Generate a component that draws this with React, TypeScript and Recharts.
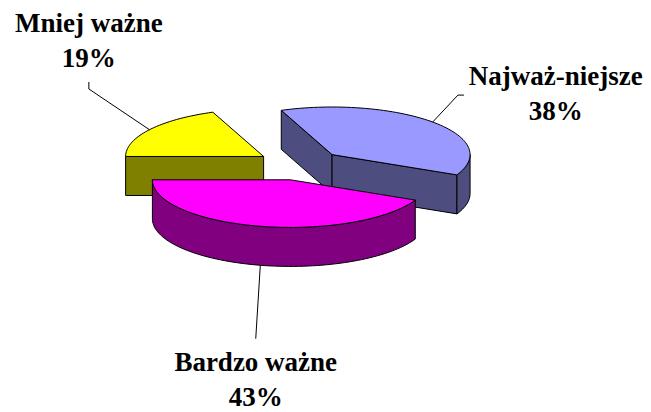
import React from 'react';
import { PieChart, Pie, Cell } from 'recharts';

const categories = ['Mniej ważne', 'Najważ-niejsze', 'Bardzo ważne'];
const shares = [19, 38, 43];
const topColors = ['#FFFF00', '#9999FF', '#FF00FF'];
const sideColors = ['#808000', '#4D4D80', '#800080'];

const data = categories.map((name, i) => ({ name, value: shares[i] }));

const TILT = 0.345; // ry / rx of the flattened disc
const DEPTH = 39;
const EXPLODE = 44;
const RAD = Math.PI / 180;
const FONT = 'Liberation Serif';

// elliptical point at a recharts angle (counter-clockwise from 3 o'clock)
const pt = (x: number, y: number, rx: number, ry: number, a: number, dy = 0) =>
  [x + rx * Math.cos(a * RAD), y - ry * Math.sin(a * RAD) + dy] as [number, number];

const arcPts = (x: number, y: number, rx: number, ry: number, a0: number, a1: number, dy = 0) => {
  const n = Math.max(2, Math.ceil(Math.abs(a1 - a0) / 2));
  const out: [number, number][] = [];
  for (let i = 0; i <= n; i++) out.push(pt(x, y, rx, ry, a0 + ((a1 - a0) * i) / n, dy));
  return out;
};

const toPath = (pts: [number, number][]) =>
  pts.map((p, i) => `${i ? 'L' : 'M'}${p[0].toFixed(2)},${p[1].toFixed(2)}`).join(' ') + ' Z';

const SliceLabel = ({ cx, cy, midAngle, outerRadius, name, pct }: any) => {
  const c = Math.cos(midAngle * RAD);
  const s = Math.sin(midAngle * RAD);
  const rx = outerRadius;
  const ry = rx * TILT;
  const drop = s < 0 ? DEPTH : 0;
  const ax = cx + (EXPLODE + rx) * c;
  const ay = cy - (EXPLODE * TILT + ry) * s + drop;

  let line: string;
  let tx: number;
  let y1: number;
  if (c > 0.6) {
    // label to the right of the elbow
    const ex = cx + rx * 1.57 * c;
    const ey = cy - rx * 0.74 * s;
    line = `M${ax},${ay} L${ex},${ey} L${ex + 6},${ey}`;
    tx = ex + 11 + name.length * 6.2;
    y1 = ey - 10;
  } else if (s > 0) {
    // label above
    const ex = cx + rx * 1.85 * c;
    const ey = cy - rx * 0.98 * s;
    line = `M${ax},${ay} L${ex},${ey} L${ex},${ey - 7}`;
    tx = ex;
    y1 = ey - 57;
  } else {
    // label below
    const ex = cx + rx * 1.47 * c;
    const ey = cy - rx * 1.0 * s + drop;
    line = `M${ax},${ay} L${ex},${ey}`;
    tx = ex;
    y1 = ey + 32;
  }

  return (
    <g>
      <path d={line} fill="none" stroke="#000" strokeWidth={1} />
      <text x={tx} y={y1} textAnchor="middle" fontFamily={FONT} fontSize={27} fontWeight={700} fill="#000" stroke="none">
        {name}
      </text>
      <text x={tx} y={y1 + 35} textAnchor="middle" fontFamily={FONT} fontSize={27} fontWeight={700} fill="#000" stroke="none">
        {pct}
      </text>
    </g>
  );
};

const Slice3D = (props: any) => {
  const { cx, cy, outerRadius, startAngle, endAngle, midAngle, payload, percent } = props;
  const name = payload?.name ?? props.name;
  const idx = categories.indexOf(name);
  const top = topColors[idx];
  const side = sideColors[idx];
  const rx = outerRadius;
  const ry = outerRadius * TILT;
  const x = cx + EXPLODE * Math.cos(midAngle * RAD);
  const y = cy - EXPLODE * TILT * Math.sin(midAngle * RAD);
  const lo = Math.min(startAngle, endAngle);
  const hi = Math.max(startAngle, endAngle);
  const faces: string[] = [];

  // radial walls
  if (Math.cos(startAngle * RAD) < 0) {
    const p = pt(x, y, rx, ry, startAngle);
    faces.push(toPath([[x, y], p, [p[0], p[1] + DEPTH], [x, y + DEPTH]]));
  }
  if (Math.cos(endAngle * RAD) > 0) {
    const p = pt(x, y, rx, ry, endAngle);
    faces.push(toPath([[x, y], p, [p[0], p[1] + DEPTH], [x, y + DEPTH]]));
  }
  // front rim
  for (let k = -1; k <= 1; k++) {
    const a = Math.max(lo, -180 + 360 * k);
    const b = Math.min(hi, 360 * k);
    if (b - a > 0.1) {
      const upper = arcPts(x, y, rx, ry, a, b);
      const lower = arcPts(x, y, rx, ry, b, a, DEPTH);
      faces.push(toPath([...upper, ...lower]));
    }
  }

  const frac = typeof percent === 'number' ? percent : Math.abs(startAngle - endAngle) / 360;

  return (
    <g>
      {faces.map((d, i) => (
        <path key={i} d={d} fill={side} stroke="#000" strokeWidth={1} strokeLinejoin="round" />
      ))}
      <path
        d={toPath([[x, y], ...arcPts(x, y, rx, ry, startAngle, endAngle)])}
        fill={top}
        stroke="#000"
        strokeWidth={1}
        strokeLinejoin="round"
      />
      <SliceLabel
        cx={cx}
        cy={cy}
        midAngle={midAngle}
        outerRadius={outerRadius}
        name={name}
        pct={`${Math.round(frac * 100)}%`}
      />
    </g>
  );
};

const App = () => {
  return (
    <div style={{ position: 'absolute', left: 0, top: 0, width: 651, height: 412, background: '#fff' }}>
      <PieChart width={651} height={412} margin={{ top: 0, right: 0, bottom: 0, left: 0 }}>
        <Pie
          data={data}
          dataKey="value"
          nameKey="name"
          cx={300}
          cy={165}
          outerRadius={138}
          startAngle={180}
          endAngle={-180}
          shape={Slice3D}
          label={false}
          labelLine={false}
          isAnimationActive={false}
        >
          {data.map((d, i) => (
            <Cell key={d.name} fill={topColors[i]} />
          ))}
        </Pie>
      </PieChart>
    </div>
  );
};

export default App;
